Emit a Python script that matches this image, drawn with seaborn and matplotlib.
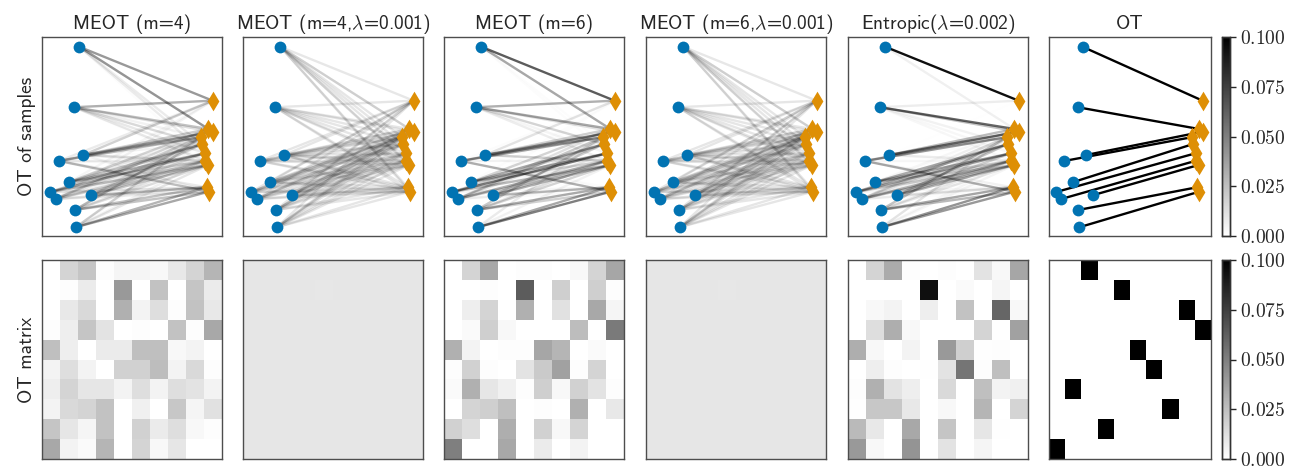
import numpy as np
import seaborn as sns
import matplotlib.pyplot as plt
from matplotlib.cm import ScalarMappable
from matplotlib.colors import Normalize
from matplotlib.ticker import FormatStrFormatter

sns.set_style("white")
plt.rcParams['font.family'] = ['cmss10', 'DejaVu Sans']
plt.rcParams['mathtext.fontset'] = 'cm'

# sample positions (source rows / target columns of the plans)
xs = [1.50, 2.07, 1.78, 0.44, 0.94, 2.29, 0.76, 2.71, 1.82, 1.87]
ys = [2.71, 9.51, 6.47, 2.21, 3.77, 4.07, 1.86, 2.05, 1.31, 0.44]
xt = [9.28, 9.06, 8.89, 9.15, 9.48, 8.85, 9.48, 9.24, 9.24, 9.06]
yt = [2.23, 3.78, 4.62, 2.45, 6.80, 4.97, 5.24, 3.57, 5.38, 4.16]

titles = ['MEOT (m=4)', r'MEOT (m=4,$\lambda$=0.001)', 'MEOT (m=6)',
          r'MEOT (m=6,$\lambda$=0.001)', r'Entropic($\lambda$=0.002)', 'OT']

# transport plans
meot_m4 = [[0, .017, .023, .001, .004, .004, .003, .009, .017, .029],
           [0, .001, .008, 0, .040, 0, .024, 0, .023, .008],
           [0, .009, .015, 0, .031, .005, .013, .001, .024, .009],
           [.001, .007, .023, .011, 0, .001, 0, .024, .001, .034],
           [.025, .007, 0, .008, .008, .025, .025, .003, .005, 0],
           [.005, .013, .005, 0, .018, .018, .026, .005, .015, .001],
           [.007, .017, .010, .010, .005, .013, .005, .013, .011, .005],
           [.005, .015, .017, .024, 0, .006, 0, .022, .004, .012],
           [.023, .010, .004, .024, 0, .018, .008, .013, .003, .001],
           [.034, .005, .002, .029, 0, .017, .003, .010, 0, 0]]

meot_m4_lam = [[.010, .010, .010, .010, .010, .010, .010, .010, .010, .010],
               [.010, .010, .010, .010, .0095, .010, .010, .010, .010, .010],
               [.010, .010, .010, .010, .010, .010, .010, .010, .010, .010],
               [.010, .010, .010, .010, .010, .010, .010, .010, .010, .010],
               [.010, .010, .010, .010, .010, .010, .010, .010, .010, .010],
               [.010, .010, .010, .010, .010, .010, .010, .010, .010, .010],
               [.010, .010, .010, .010, .010, .010, .010, .010, .010, .010],
               [.010, .010, .010, .010, .010, .010, .010, .010, .010, .010],
               [.010, .010, .010, .010, .010, .010, .010, .010, .010, .010],
               [.010, .010, .010, .010, .010, .010, .010, .010, .010, .010]]

meot_m6 = [[0, .017, .034, 0, .001, .001, 0, .003, .017, .035],
           [0, 0, .001, 0, .064, 0, .019, 0, .019, .001],
           [0, .007, .017, 0, .031, 0, .012, 0, .034, .004],
           [0, .002, .019, .003, 0, 0, 0, .026, 0, .052],
           [.031, .005, 0, .001, .001, .035, .029, 0, .002, 0],
           [.001, .018, .001, 0, .011, .021, .037, .001, .017, 0],
           [.002, .031, .010, .006, .001, .019, .003, .018, .011, .001],
           [0, .017, .019, .025, 0, .001, 0, .031, 0, .009],
           [.018, .013, 0, .032, 0, .018, .003, .017, 0, 0],
           [.050, 0, 0, .034, 0, .008, 0, .005, 0, 0]]

meot_m6_lam = meot_m4_lam

entropic = [[0, .017, .033, .001, 0, .001, 0, .011, .003, .035],
            [0, 0, 0, 0, .094, 0, .002, 0, .004, 0],
            [0, .003, .005, 0, .007, 0, .024, 0, .060, .003],
            [0, .013, .032, .003, 0, 0, 0, .017, 0, .037],
            [.032, .003, 0, .005, 0, .040, .019, .0004, .001, 0],
            [0, .007, .001, 0, .0004, .011, .054, .001, .025, 0],
            [.001, .031, .011, .007, 0, .015, 0, .025, .005, .006],
            [.0004, .022, .022, .009, 0, .003, 0, .029, 0, .017],
            [.027, .009, 0, .034, 0, .023, 0, .010, .0004, 0],
            [.040, .003, 0, .042, 0, .011, 0, .004, 0, 0]]

ot_cols = [2, 4, 8, 9, 5, 6, 1, 7, 3, 0]
ot = np.zeros((10, 10))
ot[np.arange(10), ot_cols] = 0.1

plans = [meot_m4, meot_m4_lam, meot_m6, meot_m6_lam, entropic, ot]

pal = sns.color_palette("colorblind")
W, H = 1294, 466
fig = plt.figure(figsize=(W / 100, H / 100), dpi=100)

lefts = [42, 243, 444, 646, 848, 1049]
widths = [180, 180, 180, 180, 180, 162]


def box(ax):
    for sp in ax.spines.values():
        sp.set_visible(True)
        sp.set_color('0.3')
        sp.set_linewidth(1.0)


for k, G in enumerate(plans):
    G = np.asarray(G, dtype=float)
    l, w = lefts[k], widths[k]
    ax1 = fig.add_axes([l / W, 1 - 236 / H, w / W, 199 / H])
    ax2 = fig.add_axes([l / W, 1 - 459 / H, w / W, 199 / H])

    # lines weighted by the plan
    for i in range(10):
        for j in range(10):
            a = min(G[i, j] / 0.1, 1.0)
            if a > 0.003:
                ax1.plot([xs[i], xt[j]], [ys[i], yt[j]], color='k',
                         alpha=a, lw=1.7, zorder=1)
    sns.scatterplot(x=xs, y=ys, ax=ax1, color=pal[0], s=72, linewidth=0, zorder=3)
    sns.scatterplot(x=xt, y=yt, ax=ax1, color=pal[1], marker='d', s=100,
                    linewidth=0, zorder=3)
    ax1.set(xlim=(0, 10), ylim=(0, 10), xticks=[], yticks=[])
    ax1.set_title(titles[k], fontsize=14)
    box(ax1)

    if k == 5:
        cax2 = fig.add_axes([1222 / W, 1 - 459 / H, 8 / W, 199 / H])
        sns.heatmap(G, ax=ax2, cmap='gray_r', vmin=0, vmax=0.1, cbar_ax=cax2,
                    xticklabels=False, yticklabels=False)
        cax1 = fig.add_axes([1222 / W, 1 - 236 / H, 8 / W, 199 / H])
        fig.colorbar(ScalarMappable(norm=Normalize(0, 0.1), cmap='gray_r'), cax=cax1)
        for cax in (cax1, cax2):
            cax.set_yticks([0, 0.025, 0.05, 0.075, 0.1])
            cax.yaxis.set_major_formatter(FormatStrFormatter('$%.3f$'))
            cax.tick_params(labelsize=14, length=4, width=1, pad=3)
            for sp in cax.spines.values():
                sp.set_visible(True)
                sp.set_color('0.2')
                sp.set_linewidth(1.0)
    else:
        sns.heatmap(G, ax=ax2, cmap='gray_r', vmin=0, vmax=0.1, cbar=False,
                    xticklabels=False, yticklabels=False)
    ax2.set(xticks=[], yticks=[])
    box(ax2)

    if k == 0:
        ax1.set_ylabel('OT of samples', fontsize=14)
        ax2.set_ylabel('OT matrix', fontsize=14)

fig.savefig('out.png', dpi=100)
